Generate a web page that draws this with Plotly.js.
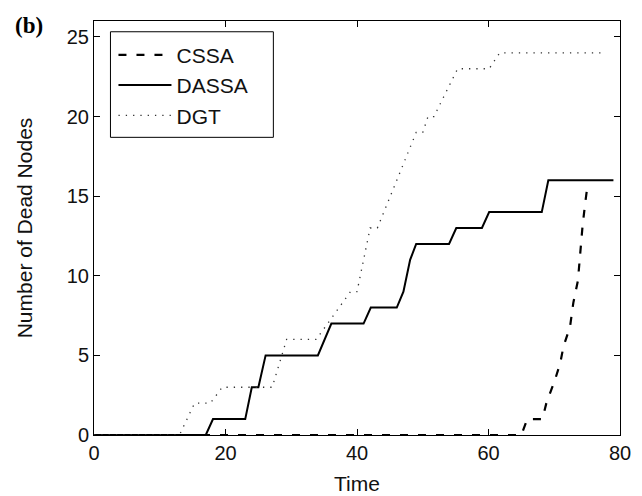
<!DOCTYPE html>
<html>
<head>
<meta charset="utf-8">
<script src="https://cdn.plot.ly/plotly-3.0.1.min.js"></script>
<style>html,body{margin:0;padding:0;background:#fff;}#chart{width:642px;height:496px;}</style>
</head>
<body>
<div id="chart"></div>
<script>
// CSSA (dashed)
const cssaTime = [0, 65.0, 65.9, 68.2, 68.8, 70.1, 70.9, 71.4, 72.4, 72.9, 73.6, 73.9, 74.3, 74.7, 75.1];
const cssaDead = [0, 0, 1, 1, 2.0, 3.45, 4.5, 5.55, 6.8, 8.3, 9.7, 11.4, 13.1, 14.55, 15.8];
// DASSA (solid)
const dassaTime = [0, 17.0, 18.1, 23.0, 24.0, 25.0, 26.1, 34.05, 36.1, 41.0, 42.1, 46.05, 47.06, 48.08, 49.0, 54.0, 55.1, 59.0, 60.1, 68.1, 69.1, 79.0];
const dassaDead = [0, 0, 1, 1, 3, 3, 5, 5, 7, 7, 8, 8, 9, 11, 12, 12, 13, 13, 14, 14, 16, 16];
// DGT (dotted)
const dgtTime = [0, 13.0, 15.3, 17.7, 19.5, 27.1, 29.3, 33.8, 39.0, 40.0, 42.0, 43.1, 49.0, 50.0, 50.8, 51.7, 55.3, 60.1, 61.7, 77.4];
const dgtDead = [0, 0, 2, 2, 3, 3, 6, 6, 9, 9, 13, 13, 19, 19, 20, 20, 23, 23, 24, 24];

const seriesNames = ['CSSA', 'DASSA', 'DGT'];
const xTicks = [0, 20, 40, 60, 80];
const yTicks = [0, 5, 10, 15, 20, 25];

const FONT = 'Liberation Sans, Arial, Helvetica, sans-serif';

const traces = [
  {x: cssaTime, y: cssaDead, name: seriesNames[0], mode: 'lines', legendgroup: 'a',
   line: {color: '#000', width: 2.2, dash: '8px,10px'}},
  {x: dassaTime, y: dassaDead, name: seriesNames[1], mode: 'lines', legendgroup: 'b',
   line: {color: '#000', width: 2}},
  {x: dgtTime, y: dgtDead, name: seriesNames[2], mode: 'lines', legendgroup: 'c',
   line: {color: '#333', width: 1.3, dash: '1.3px,6px'}}
];

const layout = {
  width: 642, height: 496,
  margin: {l: 93.5, r: 22, t: 21, b: 61, pad: 0},
  paper_bgcolor: '#fff', plot_bgcolor: '#fff',
  font: {family: FONT, size: 20, color: '#111'},
  showlegend: true,
  legend: {
    x: 0.037, y: 0.967, xanchor: 'left', yanchor: 'top',
    borderwidth: 0, bgcolor: 'rgba(0,0,0,0)',
    font: {family: FONT, size: 21, color: '#111'},
    traceorder: 'grouped', tracegroupgap: 0, itemwidth: 53
  },
  shapes: [{
    type: 'rect', xref: 'paper', yref: 'paper', layer: 'above',
    x0: 0.0313, x1: 0.341, y0: 0.719, y1: 0.974,
    line: {color: '#000', width: 1}, fillcolor: '#fff'
  }],
  xaxis: {
    range: [0, 80], tickvals: xTicks, ticktext: xTicks.map(String),
    ticks: 'inside', ticklen: 6, tickwidth: 1, tickcolor: '#000',
    showline: true, linecolor: '#000', linewidth: 1, mirror: 'ticks',
    showgrid: false, zeroline: false,
    tickfont: {family: FONT, size: 20, color: '#111'},
    title: {text: 'Time', font: {family: FONT, size: 21, color: '#111'}, standoff: 13}
  },
  yaxis: {
    range: [0, 26], tickvals: yTicks, ticktext: yTicks.map(String),
    ticks: 'inside', ticklen: 6, tickwidth: 1, tickcolor: '#000',
    showline: true, linecolor: '#000', linewidth: 1, mirror: 'ticks',
    showgrid: false, zeroline: false,
    tickfont: {family: FONT, size: 20, color: '#111'},
    title: {text: 'Number of Dead Nodes', font: {family: FONT, size: 21, color: '#111'}, standoff: 28}
  },
  annotations: [{
    text: '<b>(b)</b>', xref: 'paper', yref: 'paper',
    x: -0.124, y: 0.99, xanchor: 'center', yanchor: 'middle', showarrow: false,
    font: {family: 'Liberation Serif, Times New Roman, serif', size: 23, color: '#000'}
  }]
};

Plotly.newPlot('chart', traces, layout, {displayModeBar: false, staticPlot: true});
</script>
</body>
</html>
